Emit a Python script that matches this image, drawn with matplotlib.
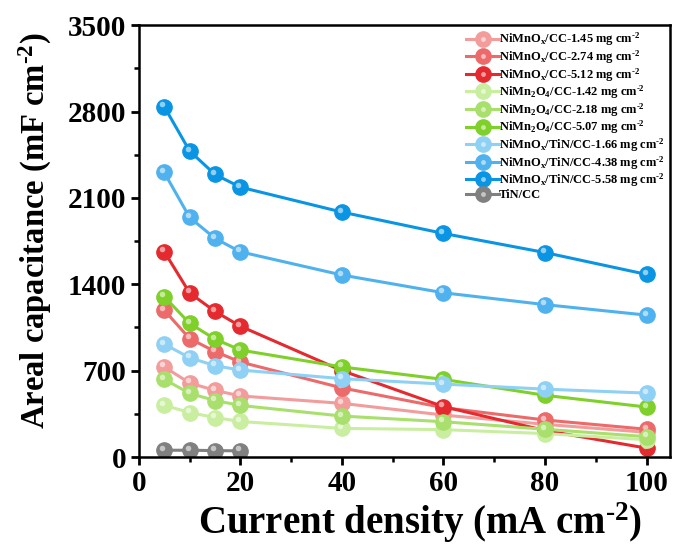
import matplotlib
matplotlib.use("Agg")
import matplotlib.pyplot as plt
from matplotlib.transforms import offset_copy
from matplotlib.ticker import MultipleLocator
from matplotlib.lines import Line2D
from matplotlib.legend_handler import HandlerTuple

plt.rcParams['font.family'] = ['Liberation Serif', 'DejaVu Serif']
plt.rcParams['font.weight'] = 'bold'
plt.rcParams['mathtext.default'] = 'regular'

# current density (mA cm-2)
current = [5, 10, 15, 20, 40, 60, 80, 100]
current_tin = [5, 10, 15, 20]

# areal capacitance (mF cm-2)
nimnox_145 = [730, 600, 540, 495, 435, 340, 265, 200]
nimnox_274 = [1190, 960, 855, 770, 560, 400, 300, 225]
nimnox_512 = [1665, 1330, 1180, 1060, 700, 408, 215, 72]
nimn2o4_142 = [420, 360, 320, 288, 232, 222, 190, 140]
nimn2o4_218 = [630, 516, 458, 418, 332, 286, 225, 165]
nimn2o4_507 = [1300, 1083, 956, 867, 730, 629, 500, 405]
tin_166 = [915, 805, 740, 705, 635, 591, 550, 518]
tin_438 = [2306, 1942, 1772, 1663, 1475, 1331, 1235, 1150]
tin_558 = [2840, 2480, 2290, 2187, 1985, 1812, 1657, 1480]
tin_cc = [55, 55, 52, 50]

# hyphen instead of the long math minus in "cm-2"
sup = '$^{\u20102}$'
labels = [
    r'NiMnO$_x$/CC-1.45 mg cm' + sup,
    r'NiMnO$_x$/CC-2.74 mg cm' + sup,
    r'NiMnO$_x$/CC-5.12 mg cm' + sup,
    r'NiMn$_2$O$_4$/CC-1.42 mg cm' + sup,
    r'NiMn$_2$O$_4$/CC-2.18 mg cm' + sup,
    r'NiMn$_2$O$_4$/CC-5.07 mg cm' + sup,
    r'NiMnO$_x$/TiN/CC-1.66 mg cm' + sup,
    r'NiMnO$_x$/TiN/CC-4.38 mg cm' + sup,
    r'NiMnO$_x$/TiN/CC-5.58 mg cm' + sup,
    'TiN/CC',
]
colors = ['#f29c9c', '#ec6a6a', '#e42a2f',
          '#c9eea0', '#a9df6c', '#7fd02a',
          '#8fd0f5', '#4fb2ee', '#0a95e4',
          '#808080']
series = [nimnox_145, nimnox_274, nimnox_512,
          nimn2o4_142, nimn2o4_218, nimn2o4_507,
          tin_166, tin_438, tin_558, tin_cc]
xs = [current] * 9 + [current_tin]

fig = plt.figure(figsize=(6.74, 5.47), dpi=100)
ax = fig.add_axes([0.206, 0.1645, 0.788, 0.7895])

# shiny highlight sits up and to the left of each ball
hl_trans = offset_copy(ax.transData, fig=fig, x=-1.5, y=1.8, units='points')

handles = []
for x, y, c, lab in zip(xs, series, colors, labels):
    ln, = ax.plot(x, y, '-o', color=c, lw=2.2, ms=11, mec=c, mfc=c, label=lab)
    ax.plot(x, y, 'o', ms=4, color='white', alpha=0.55, mec='none', transform=hl_trans)
    hl = Line2D([], [], ls='none', marker='o', ms=3.5, color='white', alpha=0.55, mec='none')
    handles.append((ln, hl))

ax.set_xlim(0, 104.6)
ax.set_ylim(0, 3500)
ax.xaxis.set_major_locator(MultipleLocator(20))
ax.xaxis.set_minor_locator(MultipleLocator(10))
ax.yaxis.set_major_locator(MultipleLocator(700))
ax.yaxis.set_minor_locator(MultipleLocator(350))
ax.tick_params(which='major', direction='out', length=6, width=2, labelsize=21, pad=3)
ax.tick_params(which='minor', direction='out', length=3.5, width=1.8)
for s in ax.spines.values():
    s.set_linewidth(1.8)
for t in ax.get_xticklabels() + ax.get_yticklabels():
    t.set_fontweight('bold')

ax.set_xlabel('Current density (mA cm' + sup + ')', fontsize=28, fontweight='bold')
ax.set_ylabel('Areal capacitance (mF cm' + sup + ')', fontsize=23.5, fontweight='bold')
ax.xaxis.set_label_coords(0.53, -0.10)
ax.yaxis.set_label_coords(-0.16, 0.525)

ax.legend(handles, labels, handler_map={tuple: HandlerTuple(ndivide=1, pad=0)},
          loc='upper right', frameon=False, prop={'size': 9, 'weight': 'bold'},
          labelspacing=0.0, handlelength=2.6, handletextpad=0.0,
          borderaxespad=0.15, borderpad=0.3, markerscale=1.0)

fig.savefig('out.png', dpi=100)
